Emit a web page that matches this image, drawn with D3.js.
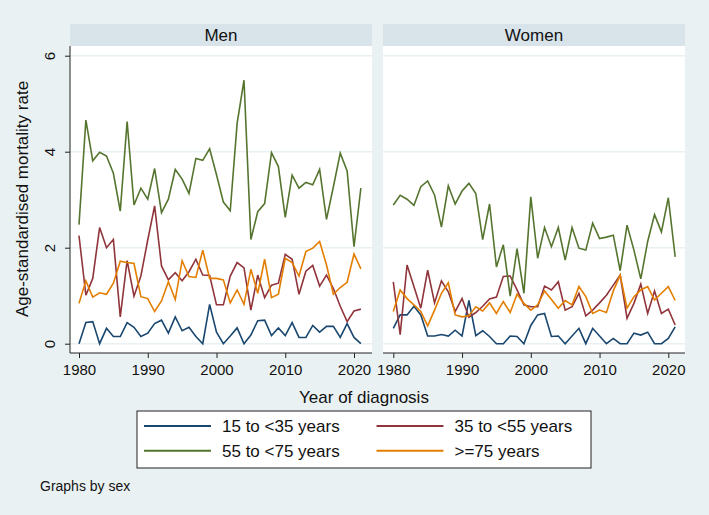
<!DOCTYPE html>
<html>
<head>
<meta charset="utf-8">
<script src="https://cdn.jsdelivr.net/npm/d3@7"></script>
<style>
  body { margin: 0; background: #eaf1f3; }
  svg { display: block; font-family: "Liberation Sans", Arial, Helvetica, sans-serif; }
</style>
</head>
<body>
<svg id="svg1" width="709" height="515"></svg>
<script>
// years of diagnosis
var years = d3.range(1980, 2022);

// Men
var men15 = [0.00,0.44,0.46,0.00,0.32,0.15,0.15,0.44,0.34,0.15,0.22,0.42,0.49,0.22,0.56,0.27,0.34,0.15,0.00,0.82,
             0.24,0.00,0.16,0.33,0.00,0.18,0.48,0.49,0.17,0.33,0.17,0.44,0.13,0.13,0.38,0.24,0.36,0.36,0.13,0.42,0.13,0.00];
var men35 = [2.25,1.01,1.36,2.42,2.00,2.17,0.56,1.73,0.99,1.41,2.16,2.87,1.62,1.33,1.48,1.31,1.50,1.76,1.43,1.42,
             0.81,0.81,1.41,1.69,1.58,0.70,1.43,0.96,1.22,1.26,1.86,1.76,1.03,1.51,1.63,1.20,1.43,1.15,0.78,0.46,0.68,0.72];
var men55 = [2.48,4.66,3.81,3.99,3.91,3.55,2.76,4.63,2.89,3.24,3.01,3.65,2.73,3.01,3.63,3.43,3.13,3.86,3.82,4.06,
             3.52,2.95,2.77,4.59,5.49,2.17,2.75,2.92,3.98,3.69,2.63,3.51,3.24,3.36,3.31,3.63,2.59,3.27,3.97,3.60,2.02,3.24];
var men75 = [0.84,1.31,0.97,1.06,1.03,1.26,1.72,1.69,1.67,0.98,0.94,0.67,0.89,1.29,0.92,1.73,1.40,1.38,1.95,1.36,
             1.36,1.33,0.85,1.12,0.82,1.55,1.05,1.76,0.96,1.03,1.78,1.69,1.41,1.92,1.99,2.13,1.64,1.03,1.17,1.28,1.87,1.56];

// Women
var women15 = [0.32,0.60,0.60,0.78,0.60,0.16,0.16,0.19,0.16,0.28,0.16,0.90,0.17,0.27,0.15,0.00,0.00,0.16,0.15,0.00,
               0.38,0.60,0.63,0.15,0.16,0.00,0.16,0.32,0.00,0.32,0.16,0.00,0.11,0.00,0.00,0.22,0.18,0.24,0.00,0.00,0.11,0.35];
var women35 = [1.29,0.19,1.64,1.19,0.74,1.53,0.85,1.31,1.08,0.67,0.94,0.55,0.65,0.78,0.93,0.97,1.40,1.41,1.12,0.81,
               0.77,0.77,1.20,1.12,1.29,0.70,0.77,1.05,0.58,0.70,0.85,1.01,1.22,1.43,0.53,0.84,1.24,0.63,1.10,0.63,0.72,0.39];
var women55 = [2.89,3.09,3.01,2.88,3.27,3.39,3.10,2.43,3.29,2.91,3.18,3.34,3.13,2.17,2.91,1.60,2.06,0.99,1.98,1.05,
               3.06,1.78,2.42,2.02,2.42,1.74,2.42,1.99,1.95,2.51,2.19,2.22,2.26,1.52,2.47,1.95,1.35,2.13,2.69,2.33,3.04,1.81];
var women75 = [0.67,1.12,0.94,0.81,0.67,0.37,0.70,1.05,1.27,0.60,0.56,0.58,0.77,0.68,0.85,0.63,0.88,0.65,1.03,0.84,
               0.70,0.81,1.10,0.92,0.74,0.90,0.81,1.19,0.98,0.63,0.70,0.65,1.10,1.43,0.74,0.98,1.12,1.19,0.91,1.05,1.19,0.90];

var groupNames = ['15 to <35 years', '35 to <55 years', '55 to <75 years', '>=75 years'];
var groupColors = ['#1a476f', '#90353b', '#55752f', '#e37e00'];

var xTicks = [1980, 1990, 2000, 2010, 2020];
var yTicks = [0, 2, 4, 6];

var svg = d3.select('svg');

var y = d3.scaleLinear().domain([0, 6]).range([343.7, 55.7]);

var panels = [
    {name: 'Men', left: 70, right: 372, x: d3.scaleLinear().domain([1980, 2020]).range([79, 354]),
     series: [men15, men35, men55, men75], yAxis: true},
    {name: 'Women', left: 383, right: 685, x: d3.scaleLinear().domain([1980, 2020]).range([393.3, 668.3]),
     series: [women15, women35, women55, women75], yAxis: false}
];

var plotTop = 46, axisY = 353;

panels.forEach(function(p){
    // header strip
    svg.append('rect')
        .attr('x', p.left).attr('y', 24)
        .attr('width', p.right - p.left).attr('height', plotTop - 24)
        .attr('fill', '#d8e3ea');
    svg.append('text')
        .attr('x', (p.left + p.right) / 2).attr('y', 41)
        .attr('text-anchor', 'middle')
        .attr('font-size', 17).attr('fill', '#111')
        .text(p.name);

    // plot region
    svg.append('rect')
        .attr('x', p.left).attr('y', plotTop)
        .attr('width', p.right - p.left).attr('height', axisY - plotTop)
        .attr('fill', 'white');

    // gridlines
    svg.append('g').selectAll('line')
        .data(yTicks)
        .enter()
        .append('line')
        .attr('x1', p.left).attr('x2', p.right)
        .attr('y1', function(d){ return y(d); })
        .attr('y2', function(d){ return y(d); })
        .attr('stroke', '#eaf1f3')
        .attr('stroke-width', 1.5);

    // lines
    var line = d3.line()
        .x(function(d, i){ return p.x(years[i]); })
        .y(function(d){ return y(d); });

    svg.append('g').selectAll('path')
        .data(p.series)
        .enter()
        .append('path')
        .attr('d', line)
        .attr('fill', 'none')
        .attr('stroke', function(d, i){ return groupColors[i]; })
        .attr('stroke-width', 1.6)
        .attr('stroke-linejoin', 'miter');

    // x axis
    var gx = svg.append('g')
        .attr('transform', 'translate(0,' + axisY + ')')
        .call(d3.axisBottom(p.x).tickValues(xTicks).tickFormat(d3.format('d')).tickSize(5).tickPadding(6).tickSizeOuter(0));
    gx.select('.domain').attr('d', 'M' + p.left + ',0H' + p.right).attr('stroke', '#222');
    gx.selectAll('.tick line').attr('stroke', '#222');
    gx.selectAll('.tick text')
        .attr('font-size', 15)
        .attr('font-family', '"Liberation Sans", Arial, sans-serif')
        .attr('fill', '#111');

    if (p.yAxis) {
        var gy = svg.append('g')
            .attr('transform', 'translate(' + p.left + ',0)')
            .call(d3.axisLeft(y).tickValues(yTicks).tickFormat(d3.format('d')).tickSize(5).tickSizeOuter(0));
        gy.select('.domain').attr('d', 'M0,' + plotTop + 'V' + axisY).attr('stroke', '#222');
        gy.selectAll('.tick line').attr('stroke', '#222');
        gy.selectAll('.tick text')
            .attr('x', 0).attr('dy', 0)
            .attr('transform', 'translate(-15,0) rotate(-90)')
            .attr('text-anchor', 'middle')
            .attr('font-size', 15)
            .attr('font-family', '"Liberation Sans", Arial, sans-serif')
            .attr('fill', '#111');
    }
});

// axis titles
svg.append('text')
    .attr('transform', 'translate(28,199) rotate(-90)')
    .attr('text-anchor', 'middle')
    .attr('font-size', 17).attr('fill', '#111')
    .text('Age-standardised mortality rate');

svg.append('text')
    .attr('x', 364).attr('y', 403)
    .attr('text-anchor', 'middle')
    .attr('font-size', 17).attr('fill', '#111')
    .text('Year of diagnosis');

// legend
svg.append('rect')
    .attr('x', 137).attr('y', 411)
    .attr('width', 454).attr('height', 57)
    .attr('fill', 'white')
    .attr('stroke', '#222').attr('stroke-width', 1);

var legendPos = [[144, 426], [376.5, 426], [144, 450.7], [376.5, 450.7]];
var legend = svg.append('g').selectAll('g')
    .data(groupNames)
    .enter()
    .append('g')
    .attr('transform', function(d, i){ return 'translate(' + legendPos[i][0] + ',' + legendPos[i][1] + ')'; });

legend.append('line')
    .attr('x1', 0).attr('x2', 67)
    .attr('y1', 0).attr('y2', 0)
    .attr('stroke', function(d, i){ return groupColors[i]; })
    .attr('stroke-width', 2);

legend.append('text')
    .attr('x', 78).attr('y', 6)
    .attr('font-size', 17).attr('fill', '#111')
    .text(function(d){ return d; });

svg.append('text')
    .attr('x', 40).attr('y', 491)
    .attr('font-size', 14).attr('fill', '#111')
    .text('Graphs by sex');
</script>
</body>
</html>
